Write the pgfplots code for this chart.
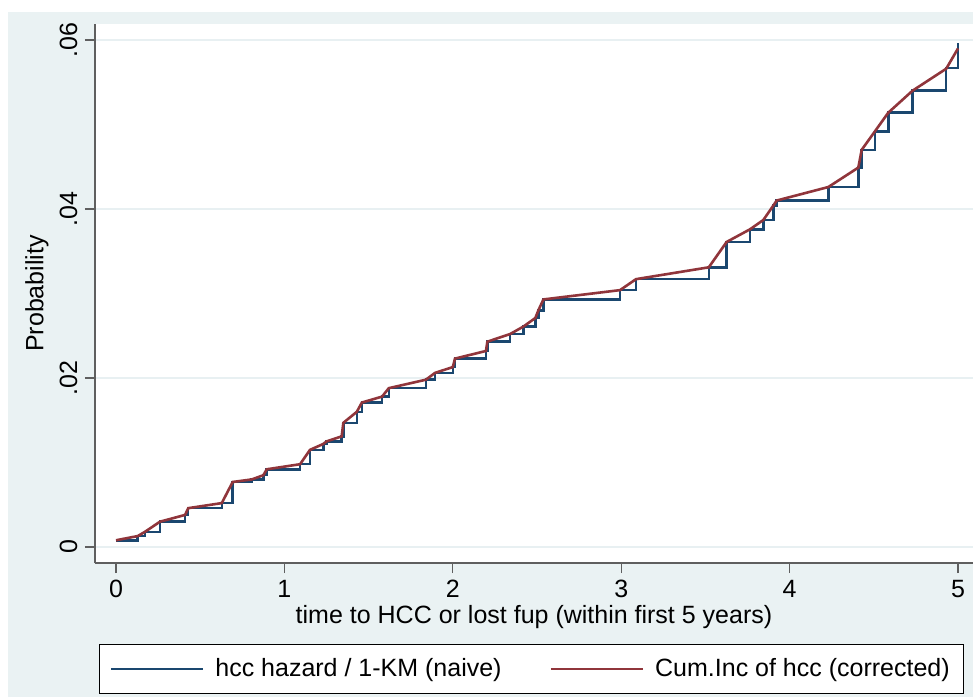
\documentclass[border=0pt]{standalone}
\usepackage{fontspec}
\setmainfont{Liberation Sans}
\usepackage{pgfplots}
\usepackage{pgfplotstable}
\pgfplotsset{compat=1.18}

\definecolor{ltbluishgray}{RGB}{234,242,243}
\definecolor{gridgray}{RGB}{232,240,242}
\definecolor{stnavy}{RGB}{26,71,111}
\definecolor{stmaroon}{RGB}{144,53,59}
\definecolor{axisgray}{RGB}{95,95,95}

% cumulative incidence of hcc, competing-risk corrected
\pgfplotstableread{
t      F
0.000  0.0008
0.129  0.0013
0.172  0.0018
0.261  0.0030
0.410  0.0038
0.429  0.0046
0.628  0.0052
0.693  0.0077
0.806  0.0080
0.875  0.0085
0.895  0.0092
1.093  0.0098
1.152  0.0115
1.231  0.0122
1.250  0.0125
1.340  0.0131
1.350  0.0147
1.430  0.0160
1.460  0.0171
1.580  0.0178
1.620  0.0188
1.840  0.0198
1.894  0.0206
2.000  0.0213
2.013  0.0223
2.197  0.0232
2.205  0.0243
2.340  0.0252
2.420  0.0261
2.490  0.0271
2.508  0.0280
2.538  0.0293
2.993  0.0304
3.088  0.0317
3.520  0.0331
3.626  0.0361
3.765  0.0376
3.844  0.0387
3.903  0.0404
3.923  0.0410
4.230  0.0426
4.408  0.0449
4.428  0.0470
4.507  0.0492
4.586  0.0514
4.730  0.0540
4.930  0.0566
5.000  0.0590
}\cuminc

% naive estimate: 1 - Kaplan-Meier
\pgfplotstableread{
t      F
0.000  0.0008
0.129  0.0013
0.172  0.0018
0.261  0.0030
0.410  0.0038
0.429  0.0046
0.628  0.0052
0.693  0.0077
0.806  0.0080
0.875  0.0085
0.895  0.0092
1.093  0.0098
1.152  0.0115
1.231  0.0122
1.250  0.0125
1.340  0.0131
1.350  0.0147
1.430  0.0160
1.460  0.0171
1.580  0.0178
1.620  0.0188
1.840  0.0198
1.894  0.0206
2.000  0.0213
2.013  0.0223
2.197  0.0232
2.205  0.0243
2.340  0.0252
2.420  0.0261
2.490  0.0271
2.508  0.0280
2.538  0.0293
2.993  0.0304
3.088  0.0317
3.520  0.0331
3.626  0.0361
3.765  0.0376
3.844  0.0387
3.903  0.0404
3.923  0.0410
4.230  0.0426
4.408  0.0449
4.428  0.0470
4.507  0.0492
4.586  0.0514
4.730  0.0540
4.930  0.0567
5.000  0.0596
}\naive

\begin{document}
\begin{tikzpicture}
  \useasboundingbox (0,0) rectangle (486.5pt,-348.5pt);
  \fill[ltbluishgray] (4pt,-6pt) rectangle (486.5pt,-348.5pt);
  \begin{axis}[
    at={(47.5pt,-281.5pt)}, anchor=south west,
    scale only axis,
    width=439pt, height=269.5pt,
    xmin=-0.1247, xmax=5.089,
    ymin=-0.00189, ymax=0.06189,
    scaled y ticks=false,
    axis background/.style={fill=white},
    axis x line*=bottom, axis y line*=left,
    axis line style={axisgray, line width=0.8pt},
    tick align=outside,
    major tick length=5pt,
    tick style={axisgray, line width=0.6pt},
    xtick={0,1,2,3,4,5},
    xticklabels={0,1,2,3,4,5},
    ytick={0,0.02,0.04,0.06},
    yticklabels={0,.02,.04,.06},
    ymajorgrids,
    grid style={gridgray, line width=1pt},
    /pgf/number format/assume math mode=true,
    font=\fontsize{12.5}{15}\selectfont,
    tick label style={font=\fontsize{12.5}{15}\selectfont},
    yticklabel style={rotate=90, anchor=base},
    yticklabel shift=4pt,
    xlabel={time to HCC or lost fup (within first 5 years)},
    ylabel={Probability},
    every axis x label/.style={at={(axis description cs:0.5,0)}, yshift=-27pt, anchor=center},
    every axis y label/.style={at={(axis description cs:0,0.5)}, xshift=-29pt, rotate=90, anchor=center},
    legend columns=2,
    legend cell align=left,
    legend image code/.code={\draw[#1] (0pt,0pt) -- (46pt,0pt);},
    legend style={at={(0.4975,-0.150)}, anchor=north, draw=black, fill=white,
      line width=0.6pt, inner xsep=5pt, inner ysep=5pt,
      font=\fontsize{12.5}{15}\selectfont,
      /tikz/every odd column/.append style={column sep=3.5pt},
      /tikz/every even column/.append style={column sep=22pt}},
  ]
    \addplot[stnavy, line width=1.25pt, const plot mark left] table[x=t, y=F] {\naive};
    \addlegendentry{hcc hazard / 1-KM (naive)}
    \addplot[stmaroon, line width=1.3pt] table[x=t, y=F] {\cuminc};
    \addlegendentry{Cum.Inc of hcc (corrected)}
  \end{axis}
\end{tikzpicture}
\end{document}
